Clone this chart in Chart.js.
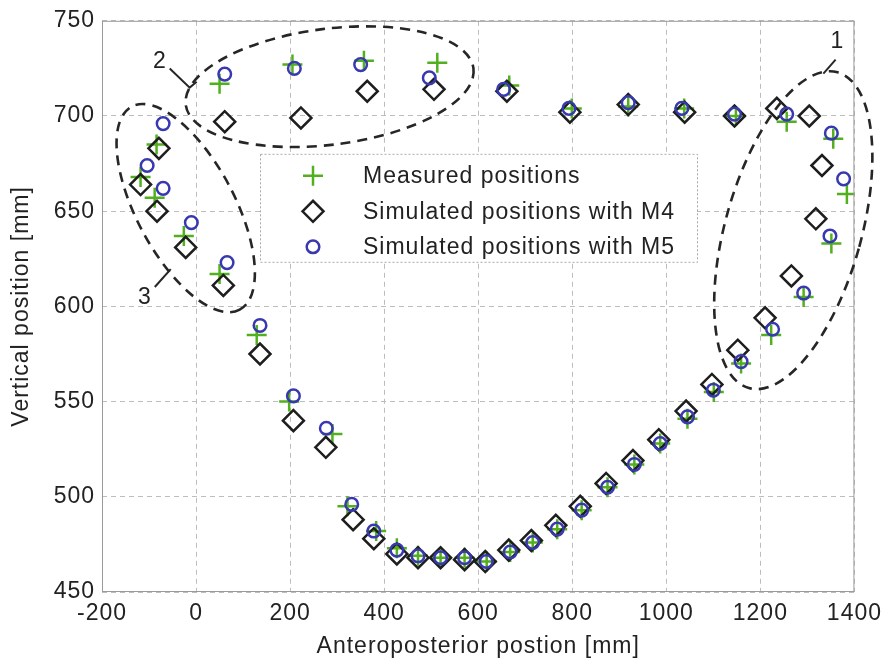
<!DOCTYPE html>
<html>
<head>
<meta charset="utf-8">
<title>Vertical vs anteroposterior position</title>
<script src="https://cdn.jsdelivr.net/npm/chart.js@4.4.1/dist/chart.umd.min.js"></script>
<style>
  html, body { margin: 0; padding: 0; background: #fff; }
  #chart { display: block; }
</style>
</head>
<body>
<canvas id="chart" width="888" height="660"></canvas>
<script>
// measured marker positions (mm)
const measuredX = [-84, -118, -88, -26, 50, 129, 198, 290, 322, 383, 427, 472, 520, 571, 618, 668, 716, 768, 820, 875,
	932, 987, 1045, 1101, 1159, 1223, 1292, 1351, 1384, 1355, 1256, 1148, 1038, 919, 799, 666, 513, 357, 205, 50];
const measuredY = [685, 668, 657, 637, 617, 585, 550, 533, 495, 482, 473, 469, 468, 468, 466, 471, 476, 483, 493, 505,
	517, 528, 541, 555, 570, 585, 605, 633, 659, 688, 697, 700, 704, 705, 704, 716, 728, 729, 727, 717];

// simulated with M4
const m4X = [-79, -118, -83, -22, 58, 136, 207, 276, 334, 378, 427, 472, 520, 571, 615, 665, 713, 765, 817, 872,
	929, 984, 1042, 1097, 1152, 1210, 1266, 1318, 1331, 1304, 1235, 1145, 1039, 919, 795, 661, 506, 364, 223, 61];
const m4Y = [683, 664, 650, 631, 611, 575, 540, 526, 488, 478, 470, 468, 468, 467, 466, 472, 477, 485, 495, 507,
	519, 530, 545, 559, 577, 594, 616, 646, 674, 700, 704, 700, 702, 706, 702, 713, 714, 713, 699, 697];

// simulated with M5
const m5X = [-70, -104, -70, -10, 66, 136, 207, 277, 331, 378, 427, 472, 520, 571, 617, 668, 716, 768, 820, 875,
	932, 987, 1045, 1100, 1159, 1226, 1292, 1348, 1377, 1351, 1256, 1145, 1033, 919, 793, 654, 496, 350, 209, 61];
const m5Y = [696, 674, 662, 644, 623, 590, 553, 536, 496, 482, 472, 469, 468, 468, 466, 471, 476, 483, 493, 505,
	517, 528, 542, 556, 571, 588, 607, 637, 667, 691, 701, 701, 704, 707, 704, 714, 720, 727, 725, 722];

const xTicks = [-200, 0, 200, 400, 600, 800, 1000, 1200, 1400];
const yTicks = [450, 500, 550, 600, 650, 700, 750];

const seriesLabels = ['Measured positions', 'Simulated positions with M4', 'Simulated positions with M5'];

// dashed groups 1, 2, 3 (centre in data units, radii in px)
const groups = [
	{ x: 1270, y: 640, rx: 68, ry: 164, angle: 15.7 },
	{ x: 284, y: 715.4, rx: 145, ry: 58, angle: -7.2 },
	{ x: -22, y: 651.6, rx: 115, ry: 49, angle: 62 },
];
const groupNames = ['1', '2', '3'];
const groupNameX = [1364, -77, -109];
const groupNameY = [739, 728.5, 604.5];
const leaders = [
	[[1360, 729.6], [1334, 722.3]],
	[[-56, 724.9], [-13.5, 714.9], [1.3, 718]],
	[[-87.7, 610.2], [-53.8, 619.6]],
];

const FONT = { family: '"Liberation Sans", Arial, sans-serif', size: 23 };
const TEXT = '#222';

function pts(xs, ys) {
	return xs.map((x, i) => ({ x: x, y: ys[i] }));
}

// the original text is a little wider than Liberation Sans
const spacing = {
	id: 'spacing',
	beforeDraw(chart) {
		chart.ctx.letterSpacing = '1px';
	}
};

const overlay = {
	id: 'overlay',
	afterDatasetsDraw(chart) {
		const ctx = chart.ctx;
		const a = chart.chartArea;
		const sx = chart.scales.x;
		const sy = chart.scales.y;

		ctx.save();
		// box
		ctx.strokeStyle = '#9a9a9a';
		ctx.lineWidth = 1;
		ctx.strokeRect(a.left + 0.5, a.top + 0.5, a.width - 1, a.height - 1);

		// dashed ellipses
		ctx.strokeStyle = '#262626';
		ctx.lineWidth = 2.6;
		ctx.setLineDash([10, 7]);
		for (const g of groups) {
			ctx.beginPath();
			ctx.ellipse(sx.getPixelForValue(g.x), sy.getPixelForValue(g.y), g.rx, g.ry, g.angle * Math.PI / 180, 0, Math.PI * 2);
			ctx.stroke();
		}

		// leader lines and numbers
		ctx.setLineDash([]);
		ctx.lineWidth = 2;
		for (const l of leaders) {
			ctx.beginPath();
			l.forEach((p, i) => {
				const px = sx.getPixelForValue(p[0]);
				const py = sy.getPixelForValue(p[1]);
				if (i === 0) ctx.moveTo(px, py); else ctx.lineTo(px, py);
			});
			ctx.stroke();
		}
		ctx.fillStyle = TEXT;
		ctx.font = FONT.size + 'px ' + FONT.family;
		ctx.textAlign = 'center';
		ctx.textBaseline = 'middle';
		groupNames.forEach((t, i) => {
			ctx.fillText(t, sx.getPixelForValue(groupNameX[i]), sy.getPixelForValue(groupNameY[i]));
		});

		// legend box
		const lx = a.left + 158, ly = a.top + 133, lw = 437, lh = 108;
		ctx.fillStyle = '#fff';
		ctx.fillRect(lx, ly, lw, lh);
		ctx.strokeStyle = '#a8a8a8';
		ctx.lineWidth = 1;
		ctx.setLineDash([2, 2]);
		ctx.strokeRect(lx + 0.5, ly + 0.5, lw, lh);
		ctx.setLineDash([]);
		ctx.textAlign = 'left';
		chart.data.datasets.forEach((ds, i) => {
			const cy = ly + 22 + i * 35.5;
			ctx.strokeStyle = ds.borderColor;
			ctx.fillStyle = 'rgba(0,0,0,0)';
			ctx.lineWidth = ds.borderWidth;
			Chart.helpers.drawPoint(ctx, {
				pointStyle: ds.pointStyle,
				radius: ds.pointRadius,
				borderWidth: ds.borderWidth,
				rotation: 0,
			}, lx + 53, cy);
			ctx.fillStyle = TEXT;
			ctx.fillText(ds.label, lx + 103, cy + 1);
		});
		ctx.restore();
	}
};

new Chart(document.getElementById('chart'), {
	type: 'scatter',
	data: {
		datasets: [
			{
				label: seriesLabels[0],
				data: pts(measuredX, measuredY),
				pointStyle: 'cross',
				pointRadius: 10,
				borderWidth: 2.5,
				borderColor: '#52b01e',
				backgroundColor: 'rgba(0,0,0,0)',
				order: 3,
			},
			{
				label: seriesLabels[1],
				data: pts(m4X, m4Y),
				pointStyle: 'rectRot',
				pointRadius: 10.5,
				borderWidth: 2.5,
				borderColor: '#1e1e1e',
				backgroundColor: 'rgba(0,0,0,0)',
				order: 2,
			},
			{
				label: seriesLabels[2],
				data: pts(m5X, m5Y),
				pointStyle: 'circle',
				pointRadius: 6.3,
				borderWidth: 2.5,
				borderColor: '#3838b0',
				backgroundColor: 'rgba(0,0,0,0)',
				order: 1,
			},
		],
	},
	options: {
		responsive: false,
		animation: false,
		layout: { padding: { left: 0, right: 31, top: 19, bottom: 0 } },
		plugins: {
			legend: { display: false },
			tooltip: { enabled: false },
		},
		scales: {
			x: {
				type: 'linear',
				min: -200,
				max: 1400,
				afterBuildTicks: s => { s.ticks = xTicks.map(v => ({ value: v })); },
				afterFit: s => { s.height = 68; },
				grid: { color: '#bdbdbd', lineWidth: 1, drawTicks: false },
				border: { display: false, dash: [5, 4] },
				ticks: { padding: 8, color: TEXT, font: FONT, maxRotation: 0, callback: v => String(v) },
				title: { display: true, text: 'Anteroposterior postion [mm]', color: TEXT, font: FONT, padding: { top: 0, bottom: 0 } },
			},
			y: {
				type: 'linear',
				min: 450,
				max: 750,
				afterBuildTicks: s => { s.ticks = yTicks.map(v => ({ value: v })); },
				afterFit: s => { s.width = 102; },
				grid: { color: '#bdbdbd', lineWidth: 1, drawTicks: false },
				border: { display: false, dash: [5, 4] },
				ticks: { padding: 7, color: TEXT, font: FONT, callback: v => String(v) },
				title: { display: true, text: 'Vertical position [mm]', color: TEXT, font: FONT, padding: { top: 8, bottom: 0 } },
			},
		},
	},
	plugins: [spacing, overlay],
});
</script>
</body>
</html>
